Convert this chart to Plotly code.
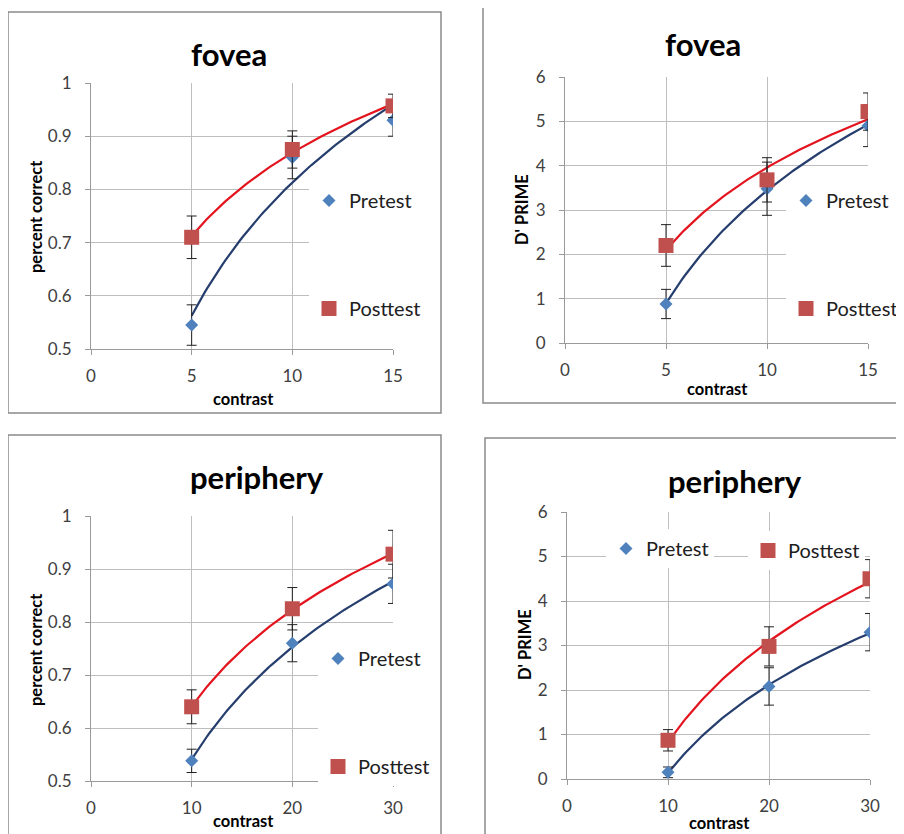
import numpy as np
import plotly.graph_objects as go

W, H = 904, 834
OFF = 8  # page body margin in the viewer

# ---------------- data ----------------
fovea_contrast = [5, 10, 15]
periph_contrast = [10, 20, 30]

fovea_pc_pre = [0.545, 0.86, 0.93]
fovea_pc_pre_err = [0.038, 0.04, 0.03]
fovea_pc_post = [0.71, 0.875, 0.957]
fovea_pc_post_err = [0.04, 0.035, 0.022]

fovea_dp_pre = [0.88, 3.48, 4.9]
fovea_dp_pre_err = [0.33, 0.6, 0.47]
fovea_dp_post = [2.2, 3.68, 5.22]
fovea_dp_post_err = [0.47, 0.5, 0.42]

periph_pc_pre = [0.538, 0.76, 0.872]
periph_pc_pre_err = [0.022, 0.035, 0.037]
periph_pc_post = [0.64, 0.825, 0.928]
periph_pc_post_err = [0.032, 0.04, 0.045]

periph_dp_pre = [0.15, 2.08, 3.3]
periph_dp_pre_err = [0.12, 0.42, 0.42]
periph_dp_post = [0.87, 2.98, 4.5]
periph_dp_post_err = [0.24, 0.44, 0.43]

panel_titles = ["fovea", "fovea", "periphery", "periphery"]
y_titles = ["percent correct", "D' PRIME", "percent correct", "D' PRIME"]
x_title = "contrast"
series_names = ["Pretest", "Posttest"]

fovea_xticks = [0, 5, 10, 15]
periph_xticks = [0, 10, 20, 30]
pc_yticks = [0.5, 0.6, 0.7, 0.8, 0.9, 1]
pc_yticklabels = ["0.5", "0.6", "0.7", "0.8", "0.9", "1"]
dp_yticks = [0, 1, 2, 3, 4, 5, 6]
dp_yticklabels = ["0", "1", "2", "3", "4", "5", "6"]

# ---------------- styling ----------------
BLUE = "#4F81BD"
RED = "#C0504D"
BLUE_LINE = "#263E6E"
RED_LINE = "#E3141E"
GRID = "#BEBEBE"
AXIS = "#9A9A9A"
FONT = "Lato"


def px(x):
    return (x - OFF) / W


def py(y):
    return 1 - (y - OFF) / H


# plot-area pixel boxes: (left, right, top, bottom)
boxes = [(91, 393, 83, 349), (565, 868, 77, 343), (91, 393, 516, 781), (567, 870, 512, 779)]
# outer chart borders
borders = [(8, 441, 12, 413), (483, 915, 3, 403), (8, 441, 435, 845), (485, 915, 438, 845)]
title_pos = [(229, 54), (703, 44), (257, 477), (735, 481)]
ytitle_pos = [(36, 217), (522, 210), (36, 650), (525, 645)]
xtitle_pos = [(243, 399), (717, 389), (243, 821), (719, 823)]

panels = [
    (fovea_contrast, fovea_pc_pre, fovea_pc_pre_err, fovea_pc_post, fovea_pc_post_err,
     fovea_xticks, pc_yticks, pc_yticklabels),
    (fovea_contrast, fovea_dp_pre, fovea_dp_pre_err, fovea_dp_post, fovea_dp_post_err,
     fovea_xticks, dp_yticks, dp_yticklabels),
    (periph_contrast, periph_pc_pre, periph_pc_pre_err, periph_pc_post, periph_pc_post_err,
     periph_xticks, pc_yticks, pc_yticklabels),
    (periph_contrast, periph_dp_pre, periph_dp_pre_err, periph_dp_post, periph_dp_post_err,
     periph_xticks, dp_yticks, dp_yticklabels),
]

legend_ids = [("legend", "legend"), ("legend2", "legend2"), ("legend3", "legend3"), ("legend4", "legend5")]

fig = go.Figure()


def log_fit(x, y):
    lx = np.log(np.array(x, dtype=float))
    a, b = np.polyfit(lx, np.array(y, dtype=float), 1)
    xs = np.linspace(min(x), max(x), 80)
    return xs, a * np.log(xs) + b


for i, (cx, pre, pre_e, post, post_e, xt, yt, ytl) in enumerate(panels):
    sfx = "" if i == 0 else str(i + 1)
    xa, ya = "x" + sfx, "y" + sfx
    xs, ys = log_fit(cx, pre)
    fig.add_trace(go.Scatter(x=xs, y=ys, mode="lines", line=dict(color=BLUE_LINE, width=2.2),
                             showlegend=False, hoverinfo="skip", xaxis=xa, yaxis=ya))
    xs, ys = log_fit(cx, post)
    fig.add_trace(go.Scatter(x=xs, y=ys, mode="lines", line=dict(color=RED_LINE, width=2.2),
                             showlegend=False, hoverinfo="skip", xaxis=xa, yaxis=ya))
    fig.add_trace(go.Scatter(x=cx, y=pre, mode="markers", name=series_names[0],
                             marker=dict(symbol="diamond", size=10, color=BLUE),
                             error_y=dict(type="data", array=pre_e, color="#202020", thickness=1, width=5),
                             legend=legend_ids[i][0], legendgroup="pre%d" % i,
                             xaxis=xa, yaxis=ya))
    fig.add_trace(go.Scatter(x=cx, y=post, mode="markers", name=series_names[1],
                             marker=dict(symbol="square", size=15, color=RED),
                             error_y=dict(type="data", array=post_e, color="#202020", thickness=1, width=5),
                             legend=legend_ids[i][1], legendgroup="post%d" % i,
                             xaxis=xa, yaxis=ya))

    l, r, t, b = boxes[i]
    axcommon = dict(showgrid=True, gridcolor=GRID, gridwidth=1, showline=True, linecolor=AXIS,
                    linewidth=1, ticks="outside", ticklen=5, tickcolor=AXIS, zeroline=False,
                    tickfont=dict(family=FONT, size=17, color="#404040"), fixedrange=True,
                    automargin=False)
    fig.layout["xaxis" + sfx] = dict(axcommon, domain=[px(l), px(r)], anchor=ya,
                                     range=[xt[0], xt[-1]], tickmode="array", tickvals=xt,
                                     ticklabelstandoff=7)
    fig.layout["yaxis" + sfx] = dict(axcommon, domain=[py(b), py(t)], anchor=xa,
                                     range=[yt[0], yt[-1]], tickmode="array", tickvals=yt,
                                     ticktext=ytl, ticklabelstandoff=10)

shapes = []
for (l, r, t, b) in borders:
    shapes.append(dict(type="rect", xref="paper", yref="paper", x0=px(l), x1=px(r), y0=py(b), y1=py(t),
                       line=dict(color="#8A8A8A", width=1.5), fillcolor="rgba(0,0,0,0)", layer="below"))

annotations = []
for i in range(4):
    tx, ty = title_pos[i]
    annotations.append(dict(text="<b>%s</b>" % panel_titles[i], x=px(tx), y=py(ty), xref="paper", yref="paper",
                            showarrow=False, xanchor="center", yanchor="middle",
                            font=dict(family=FONT, size=31, color="#000000")))
    yx, yy = ytitle_pos[i]
    annotations.append(dict(text="<b>%s</b>" % y_titles[i], x=px(yx), y=py(yy), xref="paper", yref="paper",
                            showarrow=False, xanchor="center", yanchor="middle", textangle=-90,
                            font=dict(family=FONT, size=16.5, color="#000000")))
    xx, xy = xtitle_pos[i]
    annotations.append(dict(text="<b>%s</b>" % x_title, x=px(xx), y=py(xy), xref="paper", yref="paper",
                            showarrow=False, xanchor="center", yanchor="middle",
                            font=dict(family=FONT, size=16.5, color="#000000")))

leg_common = dict(bgcolor="#FFFFFF", borderwidth=0, font=dict(family=FONT, size=20, color="#202020"),
                  xanchor="left", yanchor="top", traceorder="grouped", tracegroupgap=79,
                  itemclick=False, itemdoubleclick=False)

fig.update_layout(
    width=W, height=H, margin=dict(l=0, r=0, t=0, b=0, pad=0, autoexpand=False),
    paper_bgcolor="#FFFFFF", plot_bgcolor="#FFFFFF",
    shapes=shapes, annotations=annotations,
    legend=dict(leg_common, x=px(309), y=py(181)),
    legend2=dict(leg_common, x=px(786), y=py(181)),
    legend3=dict(leg_common, x=px(318), y=py(639)),
    legend4=dict(leg_common, x=px(606), y=py(529)),
    legend5=dict(leg_common, x=px(748), y=py(531)),
    showlegend=True,
)

fig.write_html("out.html")
